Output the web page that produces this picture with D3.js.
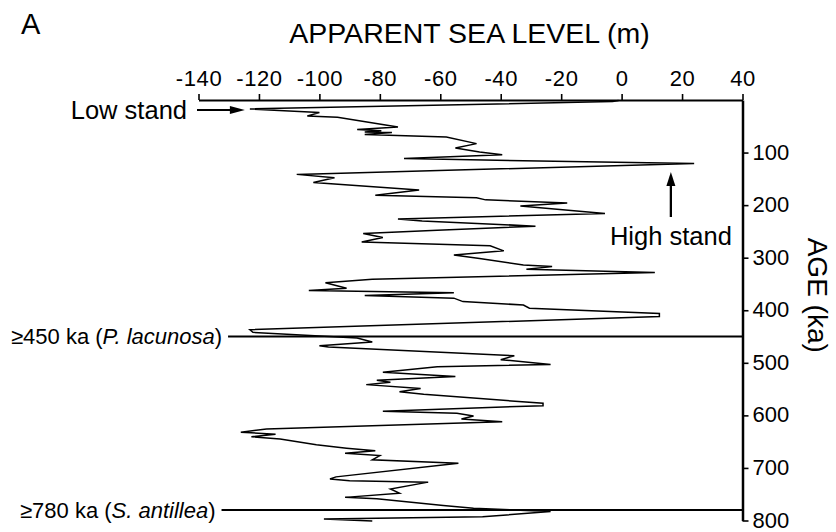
<!DOCTYPE html>
<html>
<head>
<meta charset="utf-8">
<script src="https://cdn.jsdelivr.net/npm/d3@7/dist/d3.min.js"></script>
<style>
  html, body { margin: 0; padding: 0; background: #fff; }
  svg { display: block; font-family: "Liberation Sans", Arial, Helvetica, sans-serif; }
</style>
</head>
<body>
<svg id="chart" width="836" height="532"></svg>
<script>
// ---- data ----
const seaLevel = [-1,-3,-123,-100,-104,-94,-74,-87.5,-79.5,-85,
  -76,-85,-58,-48,-55,-47,-39.5,-72,24,-107.5,
  -95,-102,-67,-81.5,-48,-45,-18,-33.5,-5.5,-74,
  -66,-28.5,-61,-85.5,-79,-86,-43.5,-39,-55.5,-47,
  -32.5,-23,-31.5,11,-82.5,-98,-91,-103.5,-55.5,-85,
  -55.5,-52.5,-32.5,-30.5,12.5,12.5,-123,-122,-87.5,-82.5,
  -100,-97,-35.5,-40,-23.5,-61,-79,-55,-81,-76.5,
  -84.5,-66.5,-73.5,-65.5,-26,-26,-79,-54.5,-49,-53,
  -39.5,-117.5,-126,-114.5,-122.5,-113,-101,-91,-81.5,-91.5,
  -80,-82.5,-54,-94.5,-96.5,-90,-64,-76.5,-73.5,
  -91.5,-81,-59,-49,-23.5,-46,-98.5,-82.5];
const ageKa = [1,3,17,24,30.5,33,51.5,56,58.5,61,
  62,65.5,70.5,83,91.5,99,104,111.5,121,141.5,
  148,157,171,181,186,190,196,201.5,216,226.5,
  230,240,248,254,261.5,270,277.5,287,295,301.5,
  314,317,322,328,341,347.5,358,362.5,366.5,372,
  377,383.5,390,396,406,412,437,442,453,460.5,
  467.5,470,486.5,494,503,507.5,518,526,533,537,
  541.5,549,555,560,577,581.5,592,596,601,607,
  612,626,632,636,640.5,645,656,662.5,667.5,672,
  676.5,684.5,691,717,721,724.5,727,740,748,
  756,758.5,771.5,776.5,783,793,797,801];
const xTicks = [-140,-120,-100,-80,-60,-40,-20,0,20,40];
const yTicks = [100,200,300,400,500,600,700,800];
const markerAges = [450, 780];
const markerPrefix = ["\u2265450 ka (", "\u2265780 ka ("];
const markerTaxon = ["P. lacunosa", "S. antillea"];
const lowStand = {level: -123, age: 17};
const highStand = {level: 16.3, age: 137};

// ---- layout ----
const svg = d3.select("#chart");
const x = d3.scaleLinear().domain([-140, 40]).range([198.5, 742.5]);
const y = d3.scaleLinear().domain([0, 800]).range([100, 520.5]);
const FONT = "\"Liberation Sans\", Arial, sans-serif";

// top axis
const gx = svg.append("g").attr("transform", `translate(0,${y(0)})`)
  .call(d3.axisTop(x).tickValues(xTicks).tickSize(6).tickSizeOuter(0).tickPadding(8)
    .tickFormat(d => String(d)));
gx.select(".domain").attr("stroke", "#000").attr("stroke-width", 2);
gx.selectAll(".tick line").attr("stroke", "#000").attr("stroke-width", 1.6);
gx.selectAll(".tick text").attr("font-size", 22).attr("font-family", FONT).attr("fill", "#000")
  .attr("letter-spacing", 0.6);

// right axis
const gy = svg.append("g").attr("transform", `translate(${x(40)},0)`)
  .call(d3.axisRight(y).tickValues(yTicks).tickSize(6).tickSizeOuter(0).tickPadding(4));
gy.select(".domain").attr("stroke", "#000").attr("stroke-width", 2.5);
gy.selectAll(".tick line").attr("stroke", "#000").attr("stroke-width", 1.6);
gy.selectAll(".tick text").attr("font-size", 22).attr("font-family", FONT).attr("fill", "#000")
  .attr("dy", "0.3em");

// marker labels + lines
markerAges.forEach((a, i) => {
  const t = svg.append("text")
    .attr("x", i === 0 ? 11 : 20)
    .attr("y", y(a))
    .attr("dy", "0.35em")
    .attr("font-size", 22)
    .attr("fill", "#000");
  t.append("tspan").text(markerPrefix[i]);
  t.append("tspan").attr("font-style", "italic").text(markerTaxon[i]);
  t.append("tspan").text(")");
  const bb = t.node().getBBox();
  svg.append("line")
    .attr("x1", bb.x + bb.width + 6).attr("x2", x(40))
    .attr("y1", y(a)).attr("y2", y(a))
    .attr("stroke", "#000").attr("stroke-width", 2);
});

// curve
const pts = seaLevel.map((v, i) => [v, ageKa[i]]);
svg.append("path")
  .attr("d", d3.line().x(d => x(d[0])).y(d => y(d[1]))(pts))
  .attr("fill", "none").attr("stroke", "#000").attr("stroke-width", 1.5)
  .attr("stroke-linejoin", "miter");

// titles
svg.append("text").attr("x", 21).attr("y", 34).attr("font-size", 29).attr("fill", "#000").text("A");
svg.append("text").attr("x", (x(-140) + x(40)) / 2 - 1).attr("y", 43)
  .attr("text-anchor", "middle").attr("font-size", 28.5).attr("fill", "#000")
  .text("APPARENT SEA LEVEL (m)");
svg.append("text").attr("transform", `translate(808,${(y(0) + y(800)) / 2 - 15}) rotate(90)`)
  .attr("text-anchor", "middle").attr("font-size", 28).attr("fill", "#000")
  .text("AGE (ka)");

// Low stand annotation
const lsY = y(lowStand.age) + 1;
const lsTip = x(lowStand.level) - 5;
svg.append("text").attr("x", 187).attr("y", lsY).attr("dy", "0.35em")
  .attr("text-anchor", "end").attr("font-size", 25.5).attr("fill", "#000").text("Low stand");
svg.append("line").attr("x1", 197).attr("x2", lsTip - 12).attr("y1", lsY).attr("y2", lsY)
  .attr("stroke", "#000").attr("stroke-width", 2);
svg.append("path")
  .attr("d", `M${lsTip},${lsY}L${lsTip - 15},${lsY - 4}L${lsTip - 15},${lsY + 4}Z`)
  .attr("fill", "#000");

// High stand annotation
const hsX = x(highStand.level);
const hsTip = y(highStand.age);
svg.append("path")
  .attr("d", `M${hsX},${hsTip}L${hsX - 4.5},${hsTip + 14}L${hsX + 4.5},${hsTip + 14}Z`)
  .attr("fill", "#000");
svg.append("line").attr("x1", hsX).attr("x2", hsX).attr("y1", hsTip + 12).attr("y2", hsTip + 45)
  .attr("stroke", "#000").attr("stroke-width", 2.3);
svg.append("text").attr("x", hsX).attr("y", 245).attr("text-anchor", "middle")
  .attr("font-size", 25.5).attr("fill", "#000").text("High stand");
</script>
</body>
</html>
